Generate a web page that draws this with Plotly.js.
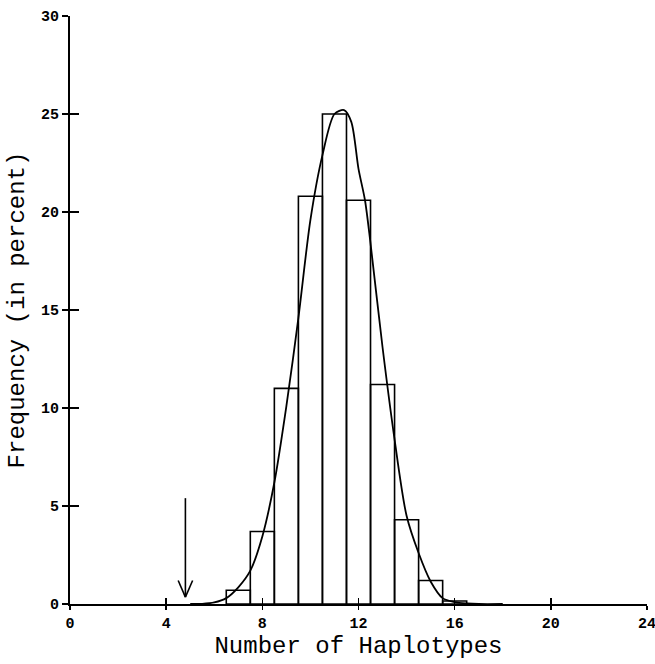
<!DOCTYPE html>
<html>
<head>
<meta charset="utf-8">
<script src="https://cdn.plot.ly/plotly-3.0.1.min.js"></script>
<style>html,body{margin:0;padding:0;background:#fff;}#chart{width:655px;height:664px;}</style>
</head>
<body>
<div id="chart"></div>
<script>
// Histogram bars (number of haplotypes vs frequency in percent)
var haplotypes = [7, 8, 9, 10, 11, 12, 13, 14, 15, 16];
var frequency = [0.7, 3.7, 11.0, 20.8, 25.0, 20.6, 11.2, 4.3, 1.2, 0.15];

// Fitted curve
var curveX = [5.0, 5.5, 6.0, 6.5, 7.0, 7.5, 8.0, 8.5, 9.0, 9.5, 10.0, 10.5, 11.0, 11.4, 11.7, 12.0, 12.27, 12.5, 13.0, 13.5, 14.0, 14.5, 15.0, 15.5, 16.0, 16.5, 17.0, 18.0];
var curveY = [0, 0.01, 0.08, 0.3, 0.85, 1.7, 3.45, 6.2, 10.1, 14.6, 19.6, 22.9, 25.0, 25.2, 24.6, 22.2, 20.6, 18.4, 13.1, 8.4, 4.5, 2.6, 1.15, 0.3, 0.1, 0.03, 0, 0];

// Observed value marked by the arrow
var arrowX = 4.8;
var arrowTop = 5.4;
var arrowTip = 0.35;

var xTicks = [0, 4, 8, 12, 16, 20, 24];
var yTicks = [0, 5, 10, 15, 20, 25, 30];

var fontFam = '"Liberation Mono", "DejaVu Sans Mono", monospace';

var traces = [
  {
    type: 'bar', x: haplotypes, y: frequency, width: 1,
    marker: {color: 'rgba(255,255,255,0)', line: {color: '#000', width: 1.6}},
    hoverinfo: 'skip', showlegend: false
  },
  {
    type: 'scatter', mode: 'lines', x: curveX, y: curveY,
    line: {color: '#000', width: 1.8, shape: 'spline', smoothing: 0.8},
    hoverinfo: 'skip', showlegend: false
  },
  {
    type: 'scatter', mode: 'lines', x: [null], y: [null], xaxis: 'x2', yaxis: 'y2',
    hoverinfo: 'skip', showlegend: false
  }
];

var headW = 0.3, headH = 0.85;
var shapes = [
  {type: 'line', xref: 'x', yref: 'y', x0: arrowX, x1: arrowX, y0: arrowTop, y1: arrowTip, line: {color: '#000', width: 1.6}},
  {type: 'line', xref: 'x', yref: 'y', x0: arrowX - headW, x1: arrowX, y0: arrowTip + headH, y1: arrowTip, line: {color: '#000', width: 1.6}},
  {type: 'line', xref: 'x', yref: 'y', x0: arrowX + headW, x1: arrowX, y0: arrowTip + headH, y1: arrowTip, line: {color: '#000', width: 1.6}}
];

var layout = {
  width: 655, height: 664,
  margin: {l: 70, r: 8, t: 16, b: 60},
  paper_bgcolor: '#fff', plot_bgcolor: '#fff',
  showlegend: false,
  bargap: 0,
  font: {family: fontFam, color: '#000'},
  xaxis: {
    range: [0, 24], tickvals: xTicks, ticktext: xTicks.map(String),
    ticks: 'outside', ticklen: 4, tickwidth: 1.6, tickcolor: '#000',
    ticklabeloverflow: 'allow',
    showline: true, linecolor: '#000', linewidth: 2, showgrid: false, zeroline: false,
    tickfont: {family: fontFam, size: 15, color: '#000', weight: 'bold'},
    title: {text: 'Number of Haplotypes', font: {family: fontFam, size: 24, color: '#000'}, standoff: 4},
    fixedrange: true
  },
  yaxis: {
    range: [0, 30], tickvals: yTicks, ticktext: yTicks.map(String),
    ticks: 'outside', ticklen: 6, tickwidth: 1.6, tickcolor: '#000',
    showline: true, linecolor: '#000', linewidth: 2, showgrid: false, zeroline: false,
    tickfont: {family: fontFam, size: 15, color: '#000', weight: 'bold'},
    title: {text: 'Frequency (in percent)', font: {family: fontFam, size: 24, color: '#000'}, standoff: 10},
    fixedrange: true
  },
  xaxis2: {
    overlaying: 'x', range: [0, 24], tickvals: xTicks, showticklabels: false,
    ticks: 'inside', ticklen: 6, tickwidth: 1.6, tickcolor: '#000', side: 'bottom',
    showline: false, showgrid: false, zeroline: false, fixedrange: true
  },
  yaxis2: {
    overlaying: 'y', range: [0, 30], tickvals: yTicks, showticklabels: false,
    ticks: 'inside', ticklen: 9, tickwidth: 1.6, tickcolor: '#000', side: 'left',
    showline: false, showgrid: false, zeroline: false, fixedrange: true
  },
  shapes: shapes
};

Plotly.newPlot('chart', traces, layout, {displayModeBar: false, staticPlot: true});
</script>
</body>
</html>
